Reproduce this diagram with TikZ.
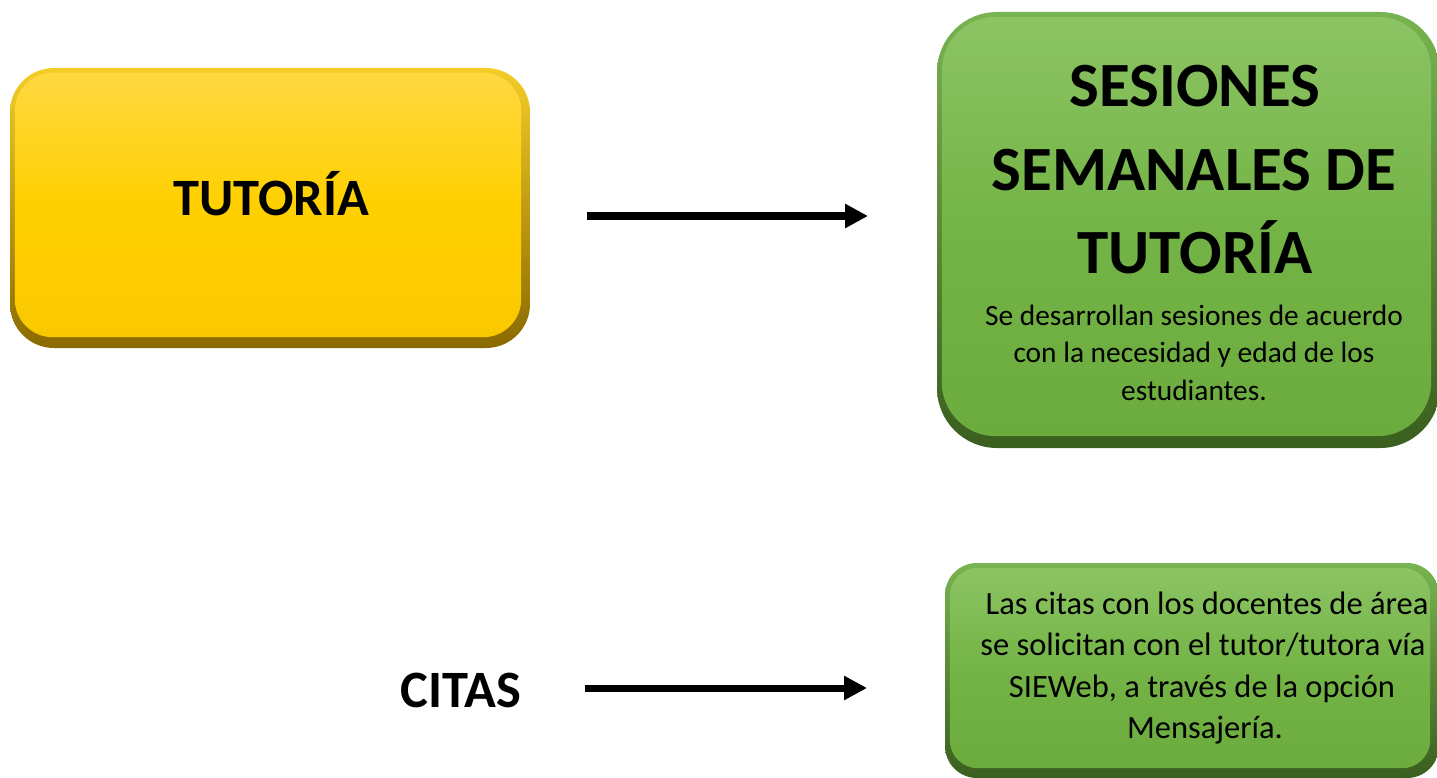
\documentclass[tikz,border=0pt]{standalone}
\usepackage{fontspec}
\setmainfont{Carlito}
\usetikzlibrary{arrows.meta}
\definecolor{ylw}{RGB}{255,208,0}
\definecolor{ylwbot}{RGB}{250,200,0}
\definecolor{ylwtop}{RGB}{255,216,66}
\definecolor{ylwrim}{RGB}{138,106,0}
\definecolor{ylwrimtop}{RGB}{245,205,40}
\definecolor{grn}{RGB}{116,180,70}
\definecolor{grnbot}{RGB}{108,172,62}
\definecolor{grntop}{RGB}{140,196,100}
\definecolor{grnrim}{RGB}{58,94,30}
\definecolor{grnrimtop}{RGB}{120,180,80}
\tikzset{
  ybox/.style={rounded corners=44pt, top color=ylwrimtop, bottom color=ylwrim, inner sep=0pt},
  yinner/.style={rounded corners=38pt, top color=ylwtop, bottom color=ylwbot, middle color=ylw},
  gbox/.style={rounded corners=#1, top color=grnrimtop, bottom color=grnrim, inner sep=0pt},
  ginner/.style={rounded corners=#1, top color=grntop, bottom color=grnbot, middle color=grn},
  conn/.style={line width=7pt, -{Triangle[length=23pt,width=23pt]}},
  bigtitle/.style={font=\fontsize{52.5}{60}\selectfont\bfseries, anchor=base},
  gtitle/.style={font=\fontsize{63}{75}\selectfont\bfseries, anchor=base},
  gbody/.style={font=\fontsize{29.4}{35}\selectfont, anchor=base},
  sbody/.style={font=\fontsize{32.5}{38}\selectfont, anchor=base},
}
\begin{document}
\begin{tikzpicture}[x=1pt,y=1pt]
\useasboundingbox (0,0) rectangle (1437,-778);
\clip (0,0) rectangle (1437,-778);
\fill[white] (0,0) rectangle (1437,-778);
% yellow box
\node[ybox, minimum width=520pt, minimum height=280pt] (tut) at (270,-208) {};
\path[yinner] ([shift={(5pt,-5pt)}]tut.north west) rectangle ([shift={(-9pt,11pt)}]tut.south east);
\node[bigtitle] (tuttxt) at (271,-215) {TUTORÍA};
% big green box
\node[gbox=60pt, minimum width=503pt, minimum height=436pt] (ses) at (1188.5,-230) {};
\path[ginner=54pt] ([shift={(5pt,-5pt)}]ses.north west) rectangle ([shift={(-9pt,12pt)}]ses.south east);
\node[gtitle] (s1) at (1195,-107) {SESIONES};
\node[gtitle] (s2) at (1194,-191) {SEMANALES DE};
\node[gtitle] (s3) at (1195,-273) {TUTORÍA};
\node[gbody] (b1) at (1194,-325) {Se desarrollan sesiones de acuerdo};
\node[gbody] (b2) at (1194,-362) {con la necesidad y edad de los};
\node[gbody] (b3) at (1194,-400) {estudiantes.};
% small green box
\node[gbox=32pt, minimum width=494pt, minimum height=215pt] (cit) at (1192,-670.5) {};
\path[ginner=28pt] ([shift={(5pt,-5pt)}]cit.north west) rectangle ([shift={(-9pt,10pt)}]cit.south east);
\node[sbody] (c1) at (1207,-614) {Las citas con los docentes de área};
\node[sbody] (c2) at (1203,-655) {se solicitan con el tutor/tutora vía};
\node[sbody] (c3) at (1202,-697) {SIEWeb, a través de la opción};
\node[sbody] (c4) at (1205,-738) {Mensajería.};
% CITAS label
\node[bigtitle] (citas) at (461,-707) {CITAS};
% arrows
\coordinate (a1s) at (587,-216);
\coordinate (a1e) at (868,-216);
\coordinate (a2s) at (585,-688);
\coordinate (a2e) at (867,-688);
\draw[conn] (a1s) -- (a1e);
\draw[conn] (a2s) -- (a2e);
\end{tikzpicture}
\end{document}
